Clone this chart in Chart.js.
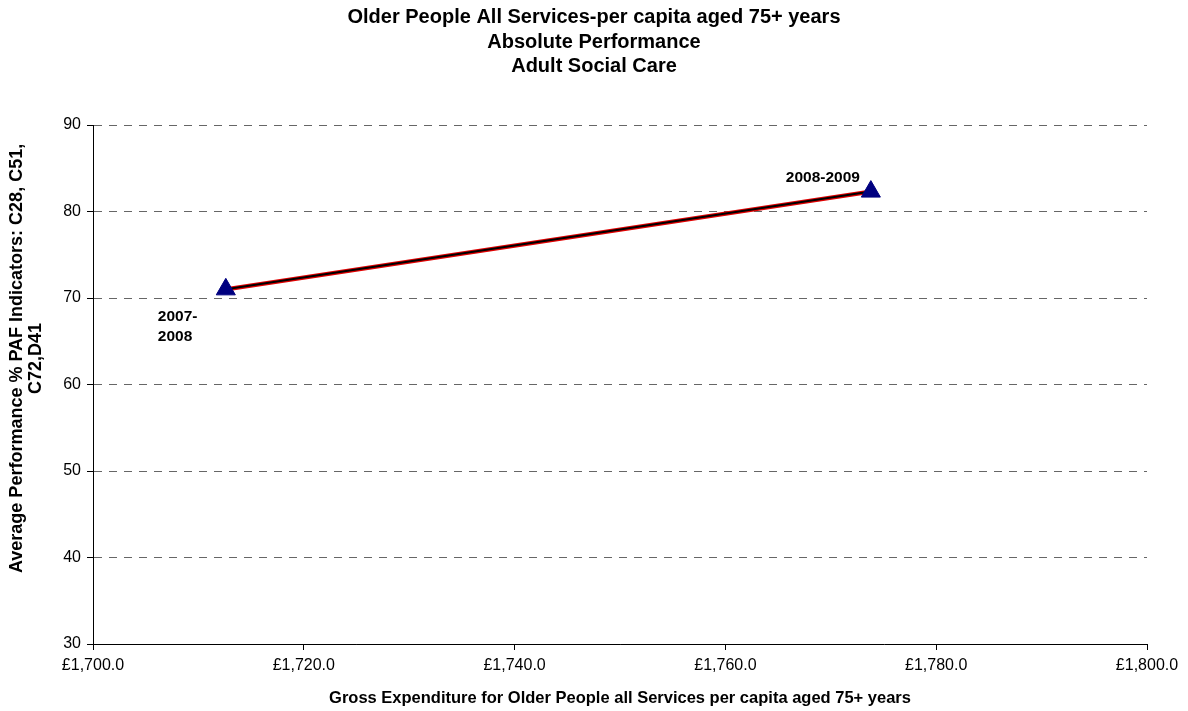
<!DOCTYPE html>
<html>
<head>
<meta charset="utf-8">
<title>Older People All Services-per capita aged 75+ years</title>
<script src="https://cdn.jsdelivr.net/npm/chart.js@4/dist/chart.umd.min.js"></script>
<style>
  html, body { margin: 0; padding: 0; background: #fff; }
  #wrap { width: 1188px; height: 711px; }
</style>
</head>
<body>
<div id="wrap"><canvas id="chart" width="1188" height="711"></canvas></div>
<script>
// Yearly figures: spend per head (75+) against average PAF performance
const years = ['2007-2008', '2008-2009'];
const expenditure = [1712.6, 1773.8];
const performance = [71.0, 82.3];

const titleLines = [
  'Older People All Services-per capita aged 75+ years',
  'Absolute Performance',
  'Adult Social Care'
];
const xAxisTitle = 'Gross Expenditure for Older People all Services per capita aged 75+ years';
const yAxisTitle = ['Average Performance % PAF Indicators: C28, C51,', 'C72,D41'];

const xTicks = { min: 1700, max: 1800, step: 20 };
const yTicks = { min: 30, max: 90, step: 10 };

// label text per point, with line breaks as shown next to each marker
const pointLabels = [['2007-', '2008'], ['2008-2009']];
// where each label sits relative to its marker (pixels)
const labelOffsets = [{ dx: -68, dy: 27 }, { dx: -85, dy: -14 }];

const points = expenditure.map((x, i) => ({ x, y: performance[i] }));

const FONT = 'Arial, "Liberation Sans", Helvetica, sans-serif';
Chart.defaults.font.family = FONT;
Chart.defaults.color = '#000';

const pointLabelPlugin = {
  id: 'pointLabels',
  afterDatasetsDraw(chart) {
    const { ctx, scales } = chart;
    ctx.save();
    ctx.font = 'bold 15.5px ' + FONT;
    ctx.fillStyle = '#000';
    ctx.textAlign = 'left';
    ctx.textBaseline = 'middle';
    points.forEach((p, i) => {
      const px = scales.x.getPixelForValue(p.x);
      const py = scales.y.getPixelForValue(p.y);
      const off = labelOffsets[i];
      pointLabels[i].forEach((line, j) => {
        ctx.fillText(line, px + off.dx, py + off.dy + j * 20);
      });
    });
    ctx.restore();
  }
};

// vertical axis title, two rotated lines sharing one centre
const yTitlePlugin = {
  id: 'yTitle',
  afterDraw(chart) {
    const { ctx } = chart;
    ctx.save();
    ctx.font = 'bold 18px ' + FONT;
    ctx.fillStyle = '#000';
    ctx.textBaseline = 'middle';
    ctx.textAlign = 'center';
    const first = ctx.measureText(yAxisTitle[0]).width;
    const startY = 573;
    const centreY = startY - first / 2;
    const xs = [17, 36];
    yAxisTitle.forEach((line, i) => {
      ctx.save();
      ctx.translate(xs[i], centreY);
      ctx.rotate(-Math.PI / 2);
      ctx.fillText(line, 0, 0);
      ctx.restore();
    });
    ctx.restore();
  }
};

new Chart(document.getElementById('chart'), {
  type: 'scatter',
  data: {
    datasets: [
      {
        // markers drawn on top of the line
        label: 'Years',
        data: points,
        showLine: false,
        pointStyle: 'triangle',
        pointRadius: 11,
        pointHoverRadius: 11,
        backgroundColor: '#000080',
        borderColor: '#000080',
        borderWidth: 1,
        order: 0
      },
      {
        label: 'Line',
        data: points,
        showLine: true,
        borderColor: '#000',
        borderWidth: 2,
        pointRadius: 0,
        order: 1
      },
      {
        label: 'Line outline',
        data: points,
        showLine: true,
        borderColor: '#e00000',
        borderWidth: 4.5,
        pointRadius: 0,
        order: 2
      }
    ]
  },
  options: {
    responsive: false,
    animation: false,
    events: [],
    layout: { padding: 0 },
    plugins: {
      legend: { display: false },
      tooltip: { enabled: false },
      title: {
        display: true,
        text: titleLines,
        font: { size: 20, weight: 'bold', lineHeight: '24.5px' },
        color: '#000',
        padding: { top: 5.5, bottom: 46 }
      }
    },
    scales: {
      x: {
        type: 'linear',
        position: 'bottom',
        min: xTicks.min,
        max: xTicks.max,
        afterFit(scale) { scale.height = 67; },
        afterBuildTicks(scale) {
          const t = [];
          for (let v = xTicks.min; v <= xTicks.max; v += xTicks.step) t.push({ value: v });
          scale.ticks = t;
        },
        ticks: {
          font: { size: 16 },
          color: '#000',
          padding: 6,
          maxRotation: 0,
          callback: v => '£' + Number(v).toLocaleString('en-GB', { minimumFractionDigits: 1, maximumFractionDigits: 1 })
        },
        grid: {
          drawOnChartArea: false,
          drawTicks: true,
          tickLength: 6,
          tickColor: '#000',
          tickWidth: 1
        },
        border: { display: true, color: '#000', width: 1 },
        title: {
          display: true,
          text: xAxisTitle,
          font: { size: 16.5, weight: 'bold' },
          color: '#000',
          padding: { top: 0, bottom: 3 }
        }
      },
      y: {
        type: 'linear',
        position: 'left',
        min: yTicks.min,
        max: yTicks.max,
        afterFit(scale) { scale.width = 93; },
        ticks: {
          stepSize: yTicks.step,
          font: { size: 16 },
          color: '#000',
          padding: 6
        },
        grid: {
          color: '#666',
          lineWidth: 1,
          drawTicks: true,
          tickLength: 6,
          tickColor: '#000',
          tickWidth: 1,
          tickBorderDash: []
        },
        // border.dash sets the dash pattern of the horizontal gridlines
        border: { display: true, color: '#000', width: 1, dash: [8, 7] },
        title: { display: false }
      },
      // empty right-hand axis that keeps the margin on the right of the plot
      pad: {
        type: 'linear',
        position: 'right',
        display: true,
        afterFit(scale) { scale.width = 41; },
        ticks: { display: false },
        grid: { display: false, drawTicks: false },
        border: { display: false }
      }
    }
  },
  plugins: [pointLabelPlugin, yTitlePlugin]
});
</script>
</body>
</html>
